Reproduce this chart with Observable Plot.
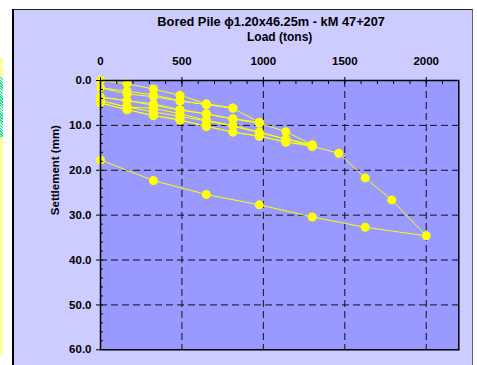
<!DOCTYPE html>
<html>
<head>
<meta charset="utf-8">
<script src="https://cdn.jsdelivr.net/npm/d3@7"></script>
<script src="https://cdn.jsdelivr.net/npm/@observablehq/plot@0.6"></script>
<style>
  html, body { margin: 0; padding: 0; background: #fff; }
  #wrap { position: relative; width: 477px; height: 365px; overflow: hidden; }
  #outer { position: absolute; left: 12px; top: 9px; width: 461px; height: 370px; box-sizing: border-box;
           background: #CCCCFF; border-left: 2px solid #000; border-top: 1.5px solid #222; border-right: 1px solid #666; }
  #strip1 { position: absolute; left: 0; top: 58px; width: 3px; height: 297px; background: #FFFF99; }
  #strip2 { position: absolute; left: 0; top: 77px; width: 3px; height: 60px;
            background: repeating-linear-gradient(45deg, #22DD99 0 1px, #CCFFE6 1px 2px); }
  #chart { position: absolute; left: 0; top: 0; }
</style>
</head>
<body>
<div id="wrap">
  <div id="strip1"></div>
  <div id="strip2"></div>
  <div id="outer"></div>
  <div id="chart"></div>
</div>
<script>
// Readings in test order (load in tons, settlement in mm)
const loads = [
  0, 163, 325, 488, 650, 813,
  650, 488, 325, 163, 0,
  163, 325, 488, 650, 813, 975,
  813, 650, 488, 325, 163, 0,
  163, 325, 488, 650, 813, 975, 1138, 1300,
  1138, 975, 813, 650, 488, 325, 163, 0,
  163, 325, 488, 650, 813, 975, 1138, 1300,
  1138, 975, 813, 650, 488, 325, 163, 0,
  163, 325, 488, 650, 813, 975, 1138, 1300, 1463, 1625, 1788, 2000,
  1625, 1300, 975, 650, 325, 0
];
const settlements = [
  0.0, 0.7, 1.9, 3.3, 5.2, 6.1,
  5.4, 4.5, 3.2, 2.4, 1.6,
  3.0, 3.6, 4.6, 5.3, 6.2, 9.3,
  8.5, 7.4, 6.5, 5.2, 4.5, 3.7,
  4.5, 5.5, 6.6, 7.5, 8.6, 9.5, 11.4, 14.3,
  13.0, 11.5, 10.0, 8.9, 7.4, 6.2, 5.9, 4.5,
  5.9, 7.0, 8.0, 9.0, 10.2, 11.6, 13.1, 14.4,
  13.7, 12.4, 11.5, 10.2, 8.8, 7.8, 6.5, 5.0,
  6.5, 7.8, 8.8, 10.2, 11.5, 12.4, 13.7, 14.7, 16.2, 21.7, 26.6, 34.6,
  32.7, 30.4, 27.7, 25.4, 22.3, 17.7
];
const xTicks = [0, 500, 1000, 1500, 2000];
const xGrid = [500, 1000, 1500, 2000];
const xMinor = d3.range(100, 2200, 100);
const yTicks = [0, 10, 20, 30, 40, 50, 60];
const yGrid = [10, 20, 30, 40, 50];
const yMinor = d3.range(2, 60, 2);
const title = "Bored Pile \u03D51.20x46.25m - kM 47+207";
const xLabel = "Load (tons)";
const yLabel = "Settlement (mm)";

const data = loads.map((l, i) => ({load: l, settlement: settlements[i]}));
const font = "'Liberation Sans', Arial, sans-serif";

const chart = Plot.plot({
  width: 477,
  height: 365,
  marginLeft: 100,
  marginRight: 18.7,
  marginTop: 80,
  marginBottom: 15.7,
  style: {background: "transparent", fontFamily: font, color: "#000", overflow: "visible"},
  x: {domain: [0, 2200]},
  y: {domain: [0, 60], reverse: true},
  marks: [
    Plot.frame({fill: "#9999FF", stroke: null}),
    Plot.ruleX(xGrid, {stroke: "#111", strokeWidth: 1, strokeDasharray: "7,4"}),
    Plot.ruleY(yGrid, {stroke: "#111", strokeWidth: 1, strokeDasharray: "7,4"}),
    Plot.line(data, {x: "load", y: "settlement", stroke: "#FFFF00", strokeWidth: 1}),
    Plot.dot(data, {x: "load", y: "settlement", r: 4.5, fill: "#FFFF00", stroke: null}),
    Plot.axisX(xMinor, {anchor: "top", tickSize: -3, tickFormat: () => "", label: null}),
    Plot.axisY(yMinor, {anchor: "left", tickSize: -3, tickFormat: () => "", label: null}),
    Plot.axisX(xTicks, {anchor: "top", tickSize: 4, tickPadding: 12, fontSize: 11.5, fontWeight: "bold",
      tickFormat: d => String(d), label: null}),
    Plot.axisY(yTicks, {anchor: "left", tickSize: 4, tickPadding: 5, fontSize: 11.5, fontWeight: "bold",
      tickFormat: d3.format(".1f"), label: null}),
    Plot.frame({stroke: "#000", strokeWidth: 1.5}),
    Plot.text([title], {frameAnchor: "top", dx: -8.5, dy: -59, fontSize: 12.8, fontWeight: "bold", lineAnchor: "middle"}),
    Plot.text([xLabel], {frameAnchor: "top", dx: 0, dy: -43, fontSize: 12, fontWeight: "bold", lineAnchor: "middle"}),
    Plot.text([yLabel], {frameAnchor: "left", dx: -45.5, rotate: -90, fontSize: 11.5, fontWeight: "bold", lineAnchor: "middle"})
  ]
});
document.getElementById("chart").appendChild(chart);
</script>
</body>
</html>
